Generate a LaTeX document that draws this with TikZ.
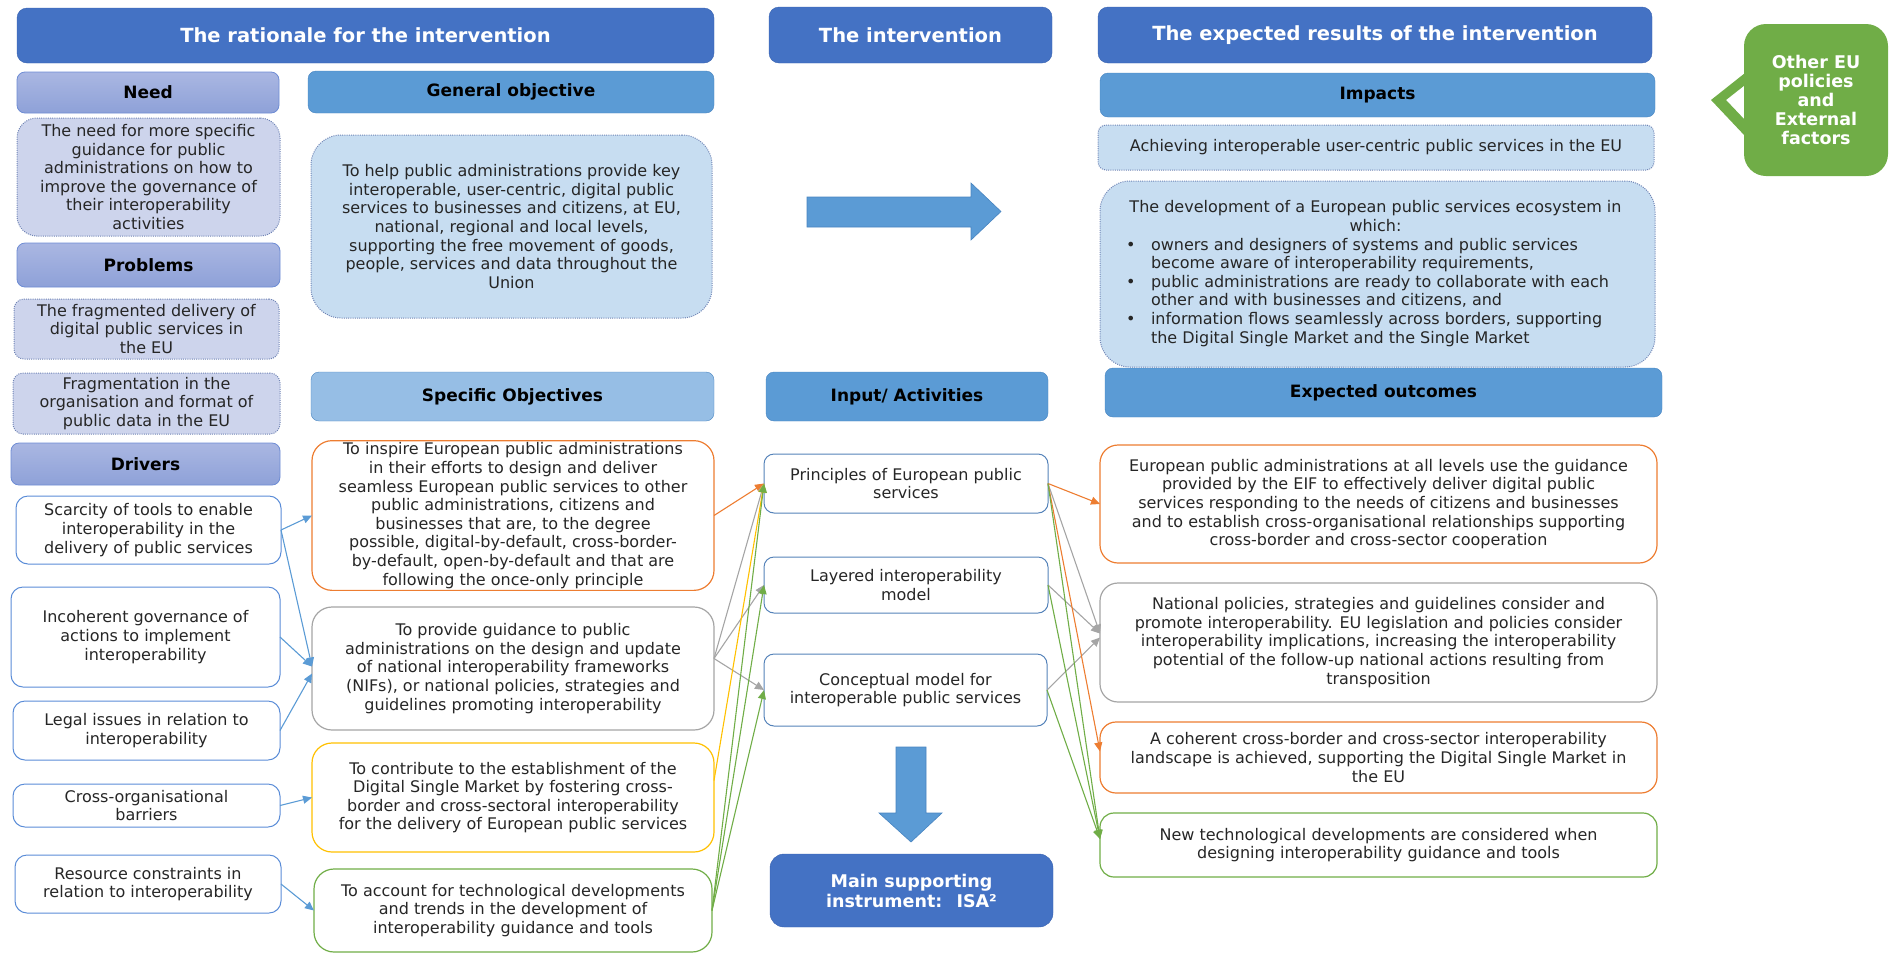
\documentclass[tikz,border=0pt]{standalone}
\usepackage{fontspec}
\setmainfont{DejaVu Sans}
\usetikzlibrary{arrows.meta,positioning}

\definecolor{hdrdark}{RGB}{68,114,196}
\definecolor{hdrdarkline}{RGB}{56,98,176}
\definecolor{hdrmid}{RGB}{91,155,213}
\definecolor{hdrmidline}{RGB}{72,132,192}
\definecolor{hdrlight}{RGB}{150,190,229}
\definecolor{lavtop}{RGB}{170,183,226}
\definecolor{lavbot}{RGB}{142,161,216}
\definecolor{lavline}{RGB}{110,140,212}
\definecolor{lavlight}{RGB}{205,212,236}
\definecolor{bluelight}{RGB}{199,221,241}
\definecolor{dotline}{RGB}{112,132,180}
\definecolor{drvline}{RGB}{90,140,215}
\definecolor{drvarrow}{RGB}{91,155,213}
\definecolor{actline}{RGB}{84,130,185}
\definecolor{objorange}{RGB}{237,125,49}
\definecolor{objgray}{RGB}{165,165,165}
\definecolor{objyellow}{RGB}{255,192,0}
\definecolor{objgreen}{RGB}{112,173,71}
\definecolor{bodytext}{RGB}{38,38,38}

\newcommand{\bodyfont}{\fontsize{16}{18.6}\selectfont\color{bodytext}}
\newcommand{\subhfont}{\fontsize{17}{20}\selectfont\bfseries}
\newcommand{\tophfont}{\fontsize{19.5}{22}\selectfont\bfseries}

\begin{document}
\begin{tikzpicture}[x=1pt, y=-1pt,
    sz/.style 2 args={minimum width=#1, minimum height=#2},
    base/.style={rectangle, inner sep=2pt, outer sep=0pt, align=center, font=\bodyfont},
    toph/.style={base, fill=hdrdark, draw=hdrdarkline, rounded corners=10pt, text=white, font=\tophfont},
    midh/.style={base, fill=hdrmid, draw=hdrmidline, rounded corners=8pt, font=\subhfont},
    lavh/.style={base, top color=lavtop, bottom color=lavbot, draw=lavline, line width=0.8pt, rounded corners=8pt, font=\subhfont},
    lavbox/.style={base, fill=lavlight, draw=dotline, dash pattern=on 1pt off 1.2pt, line width=1pt, rounded corners=#1},
    bluebox/.style={base, fill=bluelight, draw=dotline, dash pattern=on 1pt off 1.2pt, line width=1pt, rounded corners=#1},
    drvbox/.style={base, draw=drvline, line width=1pt, rounded corners=12pt},
    objbox/.style={base, draw=#1, line width=1.2pt, rounded corners=20pt},
    actbox/.style={base, draw=actline, line width=1pt, rounded corners=10pt},
    con/.style={draw=#1, line width=1.1pt, -{Triangle[length=9pt,width=8pt]}},
    blockarr/.style={fill=hdrmid, draw=hdrmidline, line width=0.6pt}
  ]
  \useasboundingbox (0,0) rectangle (1892,954);

  \node[toph, sz={697}{55}] (rationale) at (365.5,35.5) {The rationale for the intervention};
  \node[toph, sz={283}{56}] (interv) at (910.5,35) {The intervention};
  \node[toph, sz={554}{56}] (results) at (1375,35) {The expected results of the intervention};

  \node[base, fill=objgreen, rounded corners=22pt, sz={144}{152}, text=white,
        font=\fontsize{17.5}{19}\selectfont\bfseries] (other) at (1816,100) {Other EU\\policies\\and\\External\\factors};
  \fill[objgreen] (1745,73) -- (1711,100) -- (1745,136) -- (1745,120) -- (1726,100) -- (1745,85) -- cycle;

  \node[lavh, sz={262}{41}] (needh) at (148,92.5) {Need};
  \node[lavbox=20pt, sz={263}{118}] (need) at (148.5,177) {The need for more specific\\guidance for public\\administrations on how to\\improve the governance of\\their interoperability\\activities};
  \node[lavh, sz={263}{44}] (probh) at (148.5,265) {Problems};
  \node[lavbox=10pt, sz={265}{60}] (prob1) at (146.5,329) {The fragmented delivery of\\digital public services in\\the EU};
  \node[lavbox=10pt, sz={267}{61}] (prob2) at (146.5,403.5) {Fragmentation in the\\organisation and format of\\public data in the EU};
  \node[lavh, sz={269}{42}] (drvh) at (145.5,464) {Drivers};
  \node[drvbox, sz={265}{68}] (drv1) at (148.5,530) {Scarcity of tools to enable\\interoperability in the\\delivery of public services};
  \node[drvbox, sz={269}{100}] (drv2) at (145.5,637) {Incoherent governance of\\actions to implement\\interoperability};
  \node[drvbox, sz={267}{59}] (drv3) at (146.5,730.5) {Legal issues in relation to\\interoperability};
  \node[drvbox, sz={267}{43}] (drv4) at (146.5,805.5) {Cross-organisational\\barriers};
  \node[drvbox, sz={266}{58}] (drv5) at (148,884) {Resource constraints in\\relation to interoperability};

  \node[midh, sz={406}{42}] (genh) at (511,92) {General objective};
  \node[bluebox=30pt, sz={401}{183}] (gen) at (511.5,226.5) {To help public administrations provide key\\interoperable, user-centric, digital public\\services to businesses and citizens, at EU,\\national, regional and local levels,\\supporting the free movement of goods,\\people, services and data throughout the\\Union};
  \node[midh, fill=hdrlight, sz={403}{49}] (soh) at (512.5,396.5) {Specific Objectives};
  \node[objbox=objorange, sz={402}{149}] (so1) at (513,515.5) {To inspire European public administrations\\in their efforts to design and deliver\\seamless European public services to other\\public administrations, citizens and\\businesses that are, to the degree\\possible, digital-by-default, cross-border-\\by-default, open-by-default and that are\\following the once-only principle};
  \node[objbox=objgray, sz={402}{123}] (so2) at (513,668.5) {To provide guidance to public\\administrations on the design and update\\of national interoperability frameworks\\(NIFs), or national policies, strategies and\\guidelines promoting interoperability};
  \node[objbox=objyellow, sz={402}{109}] (so3) at (513,797.5) {To contribute to the establishment of the\\Digital Single Market by fostering cross-\\border and cross-sectoral interoperability\\for the delivery of European public services};
  \node[objbox=objgreen, sz={398}{83}] (so4) at (513,910.5) {To account for technological developments\\and trends in the development of\\interoperability guidance and tools};

  \fill[blockarr] (807,197) -- (971,197) -- (971,183) -- (1001,211.5) -- (971,240) -- (971,227) -- (807,227) -- cycle;
  \node[midh, sz={282}{49}] (acth) at (907,396.5) {Input/ Activities};
  \node[actbox, sz={284}{59}] (act1) at (906,483.5) {Principles of European public\\services};
  \node[actbox, sz={284}{56}] (act2) at (906,585) {Layered interoperability\\model};
  \node[actbox, sz={283}{72}] (act3) at (905.5,690) {Conceptual model for\\interoperable public services};
  \fill[blockarr] (896,747) -- (926,747) -- (926,813) -- (942,813) -- (911,842) -- (879,813) -- (896,813) -- cycle;
  \node[toph, rounded corners=14pt, sz={283}{73}, font=\fontsize{17.5}{20}\selectfont\bfseries] (isa) at (911.5,890.5) {Main supporting\\instrument:~ ISA²};

  \node[midh, sz={555}{44}] (imph) at (1377.5,95) {Impacts};
  \node[bluebox=8pt, sz={556}{45}] (imp1) at (1376,147.5) {Achieving interoperable user-centric public services in the EU};
  \node[bluebox=30pt, sz={555}{186}] (imp2) at (1377.5,274) {};
  \node[base, align=left, inner sep=0pt] (imp2txt) at (1375.5,273.5) {%
    \makebox[505pt][c]{The development of a European public services ecosystem in}\\
    \makebox[505pt][c]{which:}\\
    \hspace*{3pt}\makebox[25pt][l]{\textbullet}owners and designers of systems and public services\\
    \hspace*{28pt}become aware of interoperability requirements,\\
    \hspace*{3pt}\makebox[25pt][l]{\textbullet}public administrations are ready to collaborate with each\\
    \hspace*{28pt}other and with businesses and citizens, and\\
    \hspace*{3pt}\makebox[25pt][l]{\textbullet}information flows seamlessly across borders, supporting\\
    \hspace*{28pt}the Digital Single Market and the Single Market};
  \node[midh, sz={557}{49}] (outh) at (1383.5,392.5) {Expected outcomes};
  \node[objbox=objorange, rounded corners=18pt, sz={557}{118}] (out1) at (1378.5,504) {European public administrations at all levels use the guidance\\provided by the EIF to effectively deliver digital public\\services responding to the needs of citizens and businesses\\and to establish cross-organisational relationships supporting\\cross-border and cross-sector cooperation};
  \node[objbox=objgray, rounded corners=18pt, sz={557}{119}] (out2) at (1378.5,642.5) {National policies, strategies and guidelines consider and\\promote interoperability. EU legislation and policies consider\\interoperability implications, increasing the interoperability\\potential of the follow-up national actions resulting from\\transposition};
  \node[objbox=objorange, rounded corners=16pt, sz={557}{71}] (out3) at (1378.5,757.5) {A coherent cross-border and cross-sector interoperability\\landscape is achieved, supporting the Digital Single Market in\\the EU};
  \node[objbox=objgreen, rounded corners=14pt, sz={557}{64}] (out4) at (1378.5,845) {New technological developments are considered when\\designing interoperability guidance and tools};

  \draw[con=drvarrow] (drv1.east) -- (so1.west);
  \draw[con=drvarrow] (drv1.east) -- ([yshift=2pt]so2.west);
  \draw[con=drvarrow] (drv2.east) -- ([yshift=2pt]so2.west);
  \draw[con=drvarrow] (drv3.east) -- ([yshift=-5pt]so2.west);
  \draw[con=drvarrow] (drv4.east) -- (so3.west);
  \draw[con=drvarrow] (drv5.east) -- (so4.west);

  \draw[con=objorange] (so1.east) -- (act1.west);
  \foreach \a in {act1,act2,act3}
    \draw[con=objgray] ([yshift=10pt]so2.east) -- (\a.west);
  \draw[con=objyellow] ([yshift=17pt]so3.east) -- (act1.west);
  \foreach \a in {act1,act2,act3}
    \draw[con=objgreen] (so4.east) -- (\a.west);

  \draw[con=objorange] (act1.east) -- (out1.west);
  \draw[con=objgray] (act1.east) -- ([yshift=9pt]out2.west);
  \draw[con=objgray] (act2.east) -- ([yshift=9pt]out2.west);
  \draw[con=objgray] (act3.east) -- ([yshift=5pt]out2.west);
  \draw[con=objorange] (act1.east) -- ([yshift=6pt]out3.west);
  \foreach \a in {act1,act2,act3}
    \draw[con=objgreen] (\a.east) -- ([yshift=6pt]out4.west);
\end{tikzpicture}
\end{document}
